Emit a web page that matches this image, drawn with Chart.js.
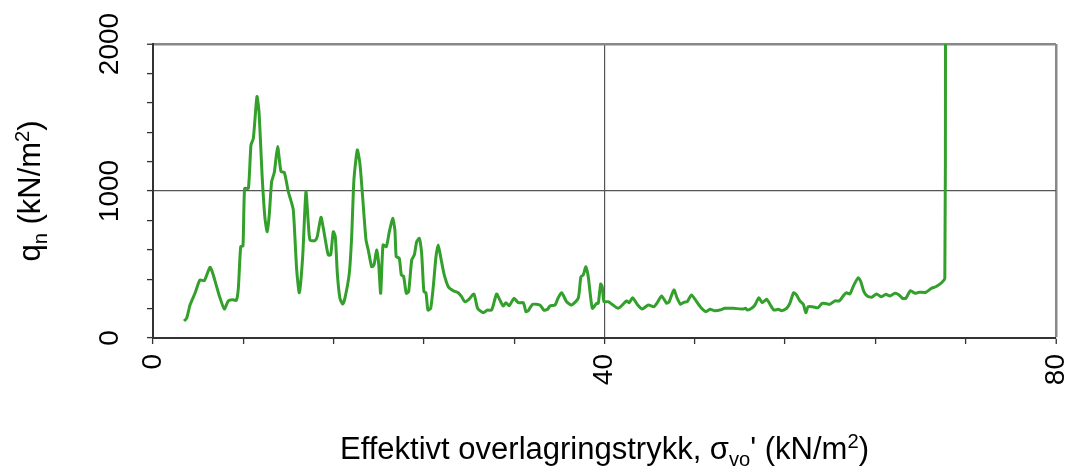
<!DOCTYPE html>
<html>
<head>
<meta charset="utf-8">
<script src="https://cdn.jsdelivr.net/npm/chart.js@4.4.1/dist/chart.umd.min.js"></script>
<style>
  html, body { margin: 0; padding: 0; background: #fff; }
  #wrap { width: 1073px; height: 471px; }
</style>
</head>
<body>
<div id="wrap"><canvas id="qnChart" width="1073" height="471"></canvas></div>
<script>
// effective overburden pressure (kN/m2)
var sigmaVo = [
  2.75, 2.98, 3.28, 3.72, 4.16, 4.55, 5.05, 5.34, 5.58, 5.85, 6.32, 6.67, 7.03, 7.38, 7.56, 7.77, 7.97,
  8.12, 8.45, 8.68, 8.89, 9.21, 9.39, 9.68, 9.92, 10.12, 10.30, 10.51, 10.75, 11.04, 11.34, 11.63, 11.99,
  12.2, 12.43, 12.73, 12.96, 13.26, 13.55, 13.76, 13.91, 14.35, 14.55, 14.88, 15.09, 15.32, 15.53, 15.74,
  15.97, 16.15, 16.33, 16.56, 16.80, 17.0, 17.39, 17.60, 17.80, 18.10, 18.33, 18.57, 18.87, 19.07, 19.37,
  19.58, 19.81, 19.99, 20.17, 20.38, 20.67, 20.93, 21.23, 21.43, 21.55, 21.82, 22.0, 22.2, 22.44, 22.65,
  22.92, 23.15, 23.36, 23.59, 23.80, 24.00, 24.18, 24.36, 24.60, 24.83, 25.07, 25.27, 25.48, 25.77, 26.16,
  26.60, 27.04, 27.34, 27.63, 27.99, 28.43, 28.76, 29.26, 29.61, 30.00, 30.44, 30.73, 31.03, 31.27, 31.56,
  31.98, 32.36, 32.81, 33.04, 33.24, 33.63, 34.28, 34.63, 34.96, 35.16, 35.61, 35.90, 36.20, 36.64, 37.08,
  37.67, 37.91, 38.12, 38.35, 38.56, 38.92, 39.30, 39.45, 39.66, 39.80, 39.95, 40.33, 41.22, 41.96, 42.19,
  42.49, 42.90, 43.34, 43.87, 44.38, 44.67, 45.06, 45.50, 45.73, 46.15, 46.44, 46.74, 47.03, 47.33, 47.71,
  48.16, 48.60, 48.98, 49.34, 49.78, 50.22, 50.66, 51.40, 52.29, 52.50, 52.67, 53.03, 53.32, 53.68, 53.97,
  54.36, 54.65, 55.00, 55.39, 55.69, 56.13, 56.42, 56.75, 57.01, 57.31, 57.62, 57.84, 58.04, 58.49, 58.93,
  59.28, 59.67, 59.96, 60.41, 60.79, 61.21, 61.44, 61.74, 62.09, 62.48, 62.71, 62.98, 63.27, 63.66, 64.10,
  64.54, 64.92, 65.28, 65.72, 66.10, 66.40, 66.69, 67.11, 67.49, 67.88, 68.47, 68.97, 69.35, 69.86, 70.15,
  70.21
];
// net cone resistance qn (kN/m2)
var qn = [
  116, 134, 224, 304, 395, 390, 481, 429, 365, 293, 197, 252, 261, 256, 338, 621, 626,
  1018, 1018, 1313, 1358, 1642, 1540, 1086, 814, 723, 837, 1063, 1127, 1302, 1132, 1127, 995,
  940, 871, 463, 308, 553, 995, 780, 667, 662, 689, 821, 746, 644, 565, 565,
  723, 689, 440, 270, 231, 270, 440, 689, 1075, 1279, 1188, 961, 667, 599, 485,
  497, 599, 508, 304, 633, 621, 720, 814, 735, 553, 542, 429, 420, 304, 315,
  531, 565, 655, 678, 576, 315, 308, 190, 202, 349, 553, 633, 553, 440, 349,
  322, 308, 281, 247, 263, 299, 202, 172, 190, 190, 299, 258, 218, 240, 220,
  270, 240, 240, 179, 186, 229, 224, 190, 195, 218, 224, 274, 308, 247, 224,
  270, 417, 429, 485, 417, 202, 236, 236, 367, 349, 247, 247, 202, 252, 240,
  274, 229, 197, 224, 213, 240, 286, 236, 247, 327, 270, 229, 243, 247, 293,
  247, 202, 179, 195, 186, 190, 202, 202, 197, 202, 190, 202, 224, 274, 240,
  263, 231, 190, 195, 186, 202, 236, 308, 293, 252, 228, 172, 213, 211, 206,
  236, 233, 229, 253, 252, 293, 308, 299, 360, 410, 383, 315, 286, 277, 299,
  281, 297, 286, 304, 293, 270, 270, 322, 304, 311, 311, 338, 349, 376, 406,
  2000
];

var xTickLabels = [0, 40, 80];
var yTickLabels = [0, 1000, 2000];

var FONT = '"Liberation Sans", Arial, sans-serif';

var points = sigmaVo.map(function (x, i) { return { x: x, y: qn[i] }; });

// text with sub/superscript pieces, centred on (0,0)
function richWidth(ctx, parts, size) {
  var w = 0;
  parts.forEach(function (p) {
    ctx.font = (p.sub || p.sup ? size * 0.65 : size) + 'px ' + FONT;
    w += ctx.measureText(p.t).width;
  });
  return w;
}
function drawRich(ctx, parts, size) {
  var x = -richWidth(ctx, parts, size) / 2;
  parts.forEach(function (p) {
    var s = p.sub || p.sup ? size * 0.65 : size;
    ctx.font = s + 'px ' + FONT;
    var dy = p.sub ? size * 0.22 : (p.sup ? -size * 0.36 : 0);
    ctx.fillText(p.t, x, dy);
    x += ctx.measureText(p.t).width;
  });
}

var xTitle = [
  { t: "Effektivt overlagringstrykk, " }, { t: "\u03c3" }, { t: "vo", sub: true },
  { t: "' (kN/m" }, { t: "2", sup: true }, { t: ")" }
];
var yTitle = [
  { t: "q" }, { t: "n", sub: true }, { t: " (kN/m" }, { t: "2", sup: true }, { t: ")" }
];

var axisText = {
  id: 'axisText',
  afterDraw: function (chart) {
    var ctx = chart.ctx, sx = chart.scales.x, sy = chart.scales.y, area = chart.chartArea;
    ctx.save();
    ctx.fillStyle = '#000';
    ctx.font = '28px ' + FONT;
    ctx.textBaseline = 'middle';
    // rotated tick labels on both axes
    yTickLabels.forEach(function (v) {
      ctx.save();
      ctx.translate(area.left - 43, sy.getPixelForValue(v));
      ctx.rotate(-Math.PI / 2);
      ctx.textAlign = 'center';
      ctx.fillText(String(v), 0, 0);
      ctx.restore();
    });
    xTickLabels.forEach(function (v) {
      ctx.save();
      ctx.translate(sx.getPixelForValue(v), area.bottom + 16);
      ctx.rotate(-Math.PI / 2);
      ctx.textAlign = 'right';
      ctx.fillText(String(v), 0, 0);
      ctx.restore();
    });
    // axis titles
    ctx.textAlign = 'left';
    ctx.textBaseline = 'alphabetic';
    ctx.save();
    ctx.translate((area.left + area.right) / 2, 459);
    drawRich(ctx, xTitle, 31);
    ctx.restore();
    ctx.save();
    ctx.translate(40, (area.top + area.bottom) / 2);
    ctx.rotate(-Math.PI / 2);
    drawRich(ctx, yTitle, 31);
    ctx.restore();
    ctx.restore();
  }
};

new Chart(document.getElementById('qnChart'), {
  type: 'line',
  data: {
    datasets: [{
      data: points,
      borderColor: 'rgb(51, 160, 44)',
      borderWidth: 3,
      pointRadius: 0,
      tension: 0.2,
      fill: false
    }]
  },
  options: {
    responsive: false,
    animation: false,
    layout: { padding: { left: 147, top: 44, right: 17, bottom: 127 } },
    plugins: { legend: { display: false }, tooltip: { enabled: false } },
    scales: {
      x: {
        type: 'linear',
        min: 0, max: 80,
        ticks: { display: false, stepSize: 8 },
        border: { color: '#333', width: 2 },
        grid: {
          color: function (c) {
            if (c.tick.value === 40) return '#555';
            if (c.tick.value === 80) return '#888';
            return 'rgba(0,0,0,0)';
          },
          lineWidth: function (c) { return c.tick.value === 80 ? 2.5 : 1.2; },
          tickColor: '#333',
          tickLength: 6,
          tickWidth: 1.3
        }
      },
      y: {
        type: 'linear',
        min: 0, max: 2000,
        ticks: { display: false, stepSize: 200 },
        border: { color: '#333', width: 2 },
        grid: {
          color: function (c) {
            if (c.tick.value === 1000) return '#555';
            if (c.tick.value === 2000) return '#888';
            return 'rgba(0,0,0,0)';
          },
          lineWidth: function (c) { return c.tick.value === 2000 ? 2.5 : 1.2; },
          tickColor: '#333',
          tickLength: 6,
          tickWidth: 1.3
        }
      }
    }
  },
  plugins: [axisText]
});
</script>
</body>
</html>
